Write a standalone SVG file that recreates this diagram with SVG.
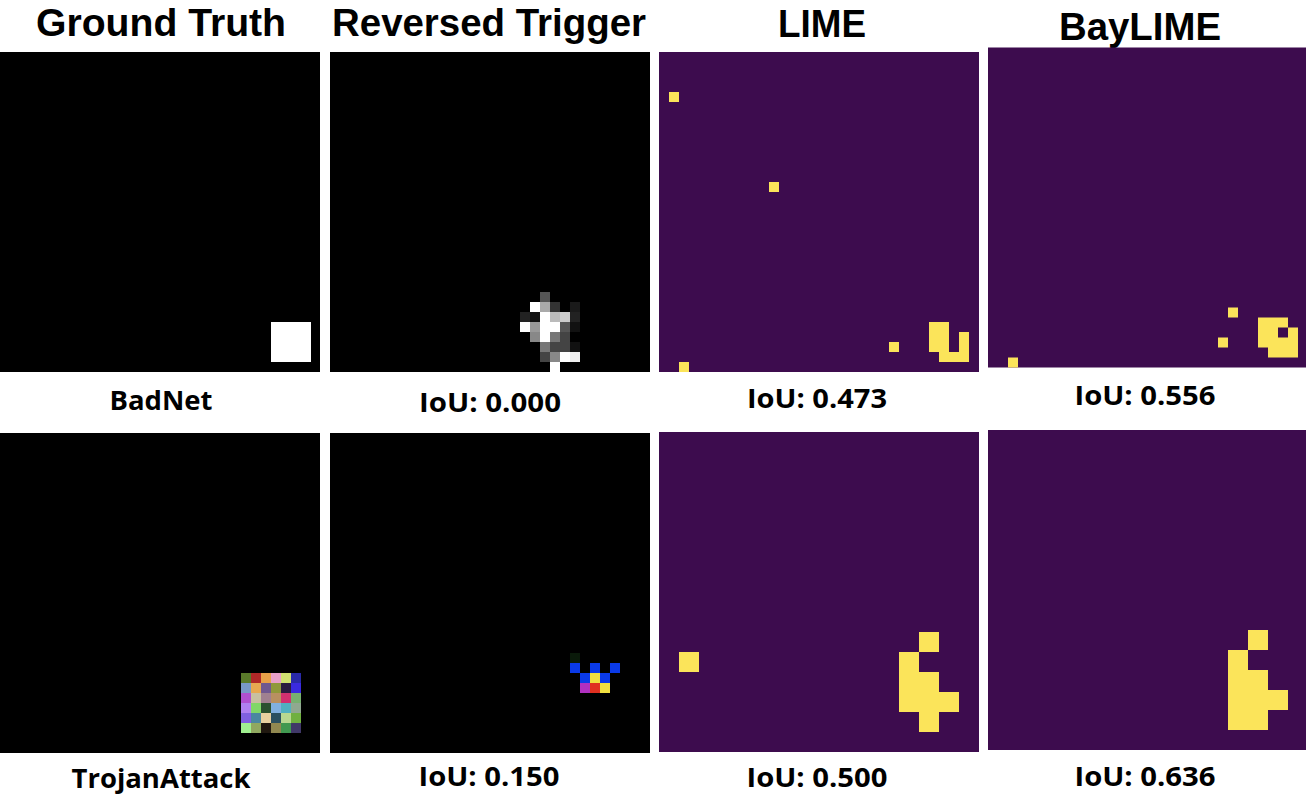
<svg xmlns="http://www.w3.org/2000/svg" width="1306" height="796" viewBox="0 0 1306 796">
<style>
.hdr{font-family:"Liberation Sans",Arial,sans-serif;font-weight:bold;font-size:38px;fill:#000;text-anchor:middle}
.lbl{font-family:"Open Sans","Liberation Sans",sans-serif;font-weight:bold;font-size:27px;fill:#000;text-anchor:middle}
.blk{fill:#000}
.pur{fill:#3d0c4e}
.yel{fill:#fbe45a}
</style>
<rect width="1306" height="796" fill="#fff"/>
<g id="headers">
<text class="hdr" x="161" y="36" textLength="250" lengthAdjust="spacingAndGlyphs">Ground Truth</text>
<text class="hdr" x="489" y="36" textLength="314" lengthAdjust="spacingAndGlyphs">Reversed Trigger</text>
<text class="hdr" x="822" y="37" textLength="88" lengthAdjust="spacingAndGlyphs">LIME</text>
<text class="hdr" x="1140" y="40" textLength="162" lengthAdjust="spacingAndGlyphs">BayLIME</text>
</g>
<g id="gt-badnet">
<rect class="blk" x="0" y="52" width="320" height="320"/>
<rect x="271" y="322" width="40" height="40" fill="#fff"/>
</g>
<g id="rt-badnet">
<rect class="blk" x="330" y="52" width="320" height="320"/>
<g transform="translate(330,52)">
<rect x="210" y="240" width="10" height="10" fill="#555"/>
<rect x="200" y="250" width="10" height="10" fill="#fff"/>
<rect x="210" y="250" width="10" height="10" fill="#aaa"/>
<rect x="220" y="250" width="10" height="10" fill="#333"/>
<rect x="240" y="250" width="10" height="10" fill="#1a1a1a"/>
<rect x="190" y="260" width="10" height="10" fill="#222"/>
<rect x="200" y="260" width="10" height="10" fill="#111"/>
<rect x="210" y="260" width="10" height="10" fill="#fff"/>
<rect x="220" y="260" width="10" height="10" fill="#bbb"/>
<rect x="230" y="260" width="10" height="10" fill="#ccc"/>
<rect x="240" y="260" width="10" height="10" fill="#222"/>
<rect x="190" y="270" width="10" height="10" fill="#fff"/>
<rect x="200" y="270" width="10" height="10" fill="#999"/>
<rect x="210" y="270" width="20" height="10" fill="#fff"/>
<rect x="230" y="270" width="10" height="10" fill="#555"/>
<rect x="240" y="270" width="10" height="10" fill="#111"/>
<rect x="200" y="280" width="10" height="10" fill="#888"/>
<rect x="210" y="280" width="10" height="10" fill="#fff"/>
<rect x="220" y="280" width="10" height="10" fill="#777"/>
<rect x="230" y="280" width="10" height="10" fill="#444"/>
<rect x="210" y="290" width="10" height="10" fill="#777"/>
<rect x="220" y="290" width="20" height="10" fill="#444"/>
<rect x="240" y="290" width="10" height="10" fill="#111"/>
<rect x="210" y="300" width="10" height="10" fill="#444"/>
<rect x="220" y="300" width="10" height="10" fill="#888"/>
<rect x="230" y="300" width="10" height="10" fill="#fff"/>
<rect x="240" y="300" width="10" height="10" fill="#eee"/>
<rect x="220" y="310" width="10" height="10" fill="#fff"/>
</g>
</g>
<g id="lime-badnet">
<rect class="pur" x="659" y="52" width="320" height="320"/>
<g class="yel" transform="translate(659,52)">
<rect x="10" y="40" width="10" height="10"/>
<rect x="110" y="130" width="10" height="10"/>
<rect x="20" y="310" width="10" height="10"/>
<rect x="230" y="290" width="10" height="10"/>
<path d="M270 270H290V300H300V280H310V310H280V300H270Z"/>
</g>
</g>
<g id="baylime-badnet">
<rect class="pur" x="988" y="47.5" width="320" height="320"/>
<g class="yel" transform="translate(988,47.5)">
<rect x="240" y="260" width="10" height="10"/>
<rect x="230" y="290" width="10" height="10"/>
<rect x="20" y="310" width="10" height="10"/>
<path d="M270 270H300V280H310V310H280V300H270Z"/>
</g>
<rect class="pur" x="1278" y="327.5" width="10" height="10"/>
</g>
<g id="labels-top">
<text class="lbl" x="161" y="410" textLength="103" lengthAdjust="spacingAndGlyphs">BadNet</text>
<text class="lbl" x="490" y="412" textLength="142" lengthAdjust="spacingAndGlyphs">IoU: 0.000</text>
<text class="lbl" x="817" y="408" textLength="140" lengthAdjust="spacingAndGlyphs">IoU: 0.473</text>
<text class="lbl" x="1145" y="405" textLength="141" lengthAdjust="spacingAndGlyphs">IoU: 0.556</text>
</g>
<g id="gt-trojan">
<rect class="blk" x="0" y="433" width="320" height="320"/>
<g transform="translate(241,673)">
<rect x="0" y="0" width="10" height="10" fill="#5a7a2a"/>
<rect x="10" y="0" width="10" height="10" fill="#b02828"/>
<rect x="20" y="0" width="10" height="10" fill="#e8a048"/>
<rect x="30" y="0" width="10" height="10" fill="#e8a0c8"/>
<rect x="40" y="0" width="10" height="10" fill="#d0e070"/>
<rect x="50" y="0" width="10" height="10" fill="#2a2aa8"/>
<rect x="0" y="10" width="10" height="10" fill="#7898c8"/>
<rect x="10" y="10" width="10" height="10" fill="#e8a850"/>
<rect x="20" y="10" width="10" height="10" fill="#705890"/>
<rect x="30" y="10" width="10" height="10" fill="#90983a"/>
<rect x="40" y="10" width="10" height="10" fill="#2a1a40"/>
<rect x="50" y="10" width="10" height="10" fill="#3a2ae0"/>
<rect x="0" y="20" width="10" height="10" fill="#b050d0"/>
<rect x="10" y="20" width="10" height="10" fill="#c8c0a0"/>
<rect x="20" y="20" width="10" height="10" fill="#a08090"/>
<rect x="30" y="20" width="10" height="10" fill="#b89060"/>
<rect x="40" y="20" width="10" height="10" fill="#d03070"/>
<rect x="50" y="20" width="10" height="10" fill="#78b070"/>
<rect x="0" y="30" width="10" height="10" fill="#b080f0"/>
<rect x="10" y="30" width="10" height="10" fill="#80d868"/>
<rect x="20" y="30" width="10" height="10" fill="#2a5030"/>
<rect x="30" y="30" width="10" height="10" fill="#80b0e0"/>
<rect x="40" y="30" width="10" height="10" fill="#50b0c0"/>
<rect x="50" y="30" width="10" height="10" fill="#90a890"/>
<rect x="0" y="40" width="10" height="10" fill="#8060e0"/>
<rect x="10" y="40" width="10" height="10" fill="#4a88a0"/>
<rect x="20" y="40" width="10" height="10" fill="#e8d0a0"/>
<rect x="30" y="40" width="10" height="10" fill="#2a5060"/>
<rect x="40" y="40" width="10" height="10" fill="#b8d890"/>
<rect x="50" y="40" width="10" height="10" fill="#70b040"/>
<rect x="0" y="50" width="10" height="10" fill="#a0f090"/>
<rect x="10" y="50" width="10" height="10" fill="#90a860"/>
<rect x="20" y="50" width="10" height="10" fill="#201810"/>
<rect x="30" y="50" width="10" height="10" fill="#908850"/>
<rect x="40" y="50" width="10" height="10" fill="#409850"/>
<rect x="50" y="50" width="10" height="10" fill="#403868"/>
</g>
</g>
<g id="rt-trojan">
<rect class="blk" x="330" y="433" width="320" height="320"/>
<rect x="570" y="653" width="10" height="10" fill="#0a1a0a"/>
<rect x="570" y="663" width="10" height="10" fill="#0a3ae8"/>
<rect x="590" y="663" width="10" height="10" fill="#0a3ae8"/>
<rect x="610" y="663" width="10" height="10" fill="#0a3ae8"/>
<rect x="580" y="673" width="10" height="10" fill="#0a3ae8"/>
<rect x="590" y="673" width="10" height="10" fill="#f0e040"/>
<rect x="600" y="673" width="10" height="10" fill="#0a3ae8"/>
<rect x="580" y="683" width="10" height="10" fill="#b030c0"/>
<rect x="590" y="683" width="10" height="10" fill="#e03020"/>
<rect x="600" y="683" width="10" height="10" fill="#f0e040"/>
</g>
<g id="lime-trojan">
<rect class="pur" x="659" y="432" width="320" height="320"/>
<rect class="yel" x="679" y="652" width="20" height="20"/>
<rect class="yel" x="919" y="632" width="20" height="20"/>
<path class="yel" d="M899 652H919V672H939V692H959V712H939V732H919V712H899Z"/>
</g>
<g id="baylime-trojan">
<rect class="pur" x="988" y="430" width="320" height="320"/>
<rect class="yel" x="1248" y="630" width="20" height="20"/>
<path class="yel" d="M1228 650H1248V670H1268V690H1288V710H1268V730H1228Z"/>
</g>
<g id="labels-bottom">
<text class="lbl" x="161" y="788" textLength="179" lengthAdjust="spacingAndGlyphs">TrojanAttack</text>
<text class="lbl" x="489" y="786" textLength="141" lengthAdjust="spacingAndGlyphs">IoU: 0.150</text>
<text class="lbl" x="817" y="787" textLength="141" lengthAdjust="spacingAndGlyphs">IoU: 0.500</text>
<text class="lbl" x="1145" y="786" textLength="141" lengthAdjust="spacingAndGlyphs">IoU: 0.636</text>
</g>
<g id="connectors"></g>
</svg>
